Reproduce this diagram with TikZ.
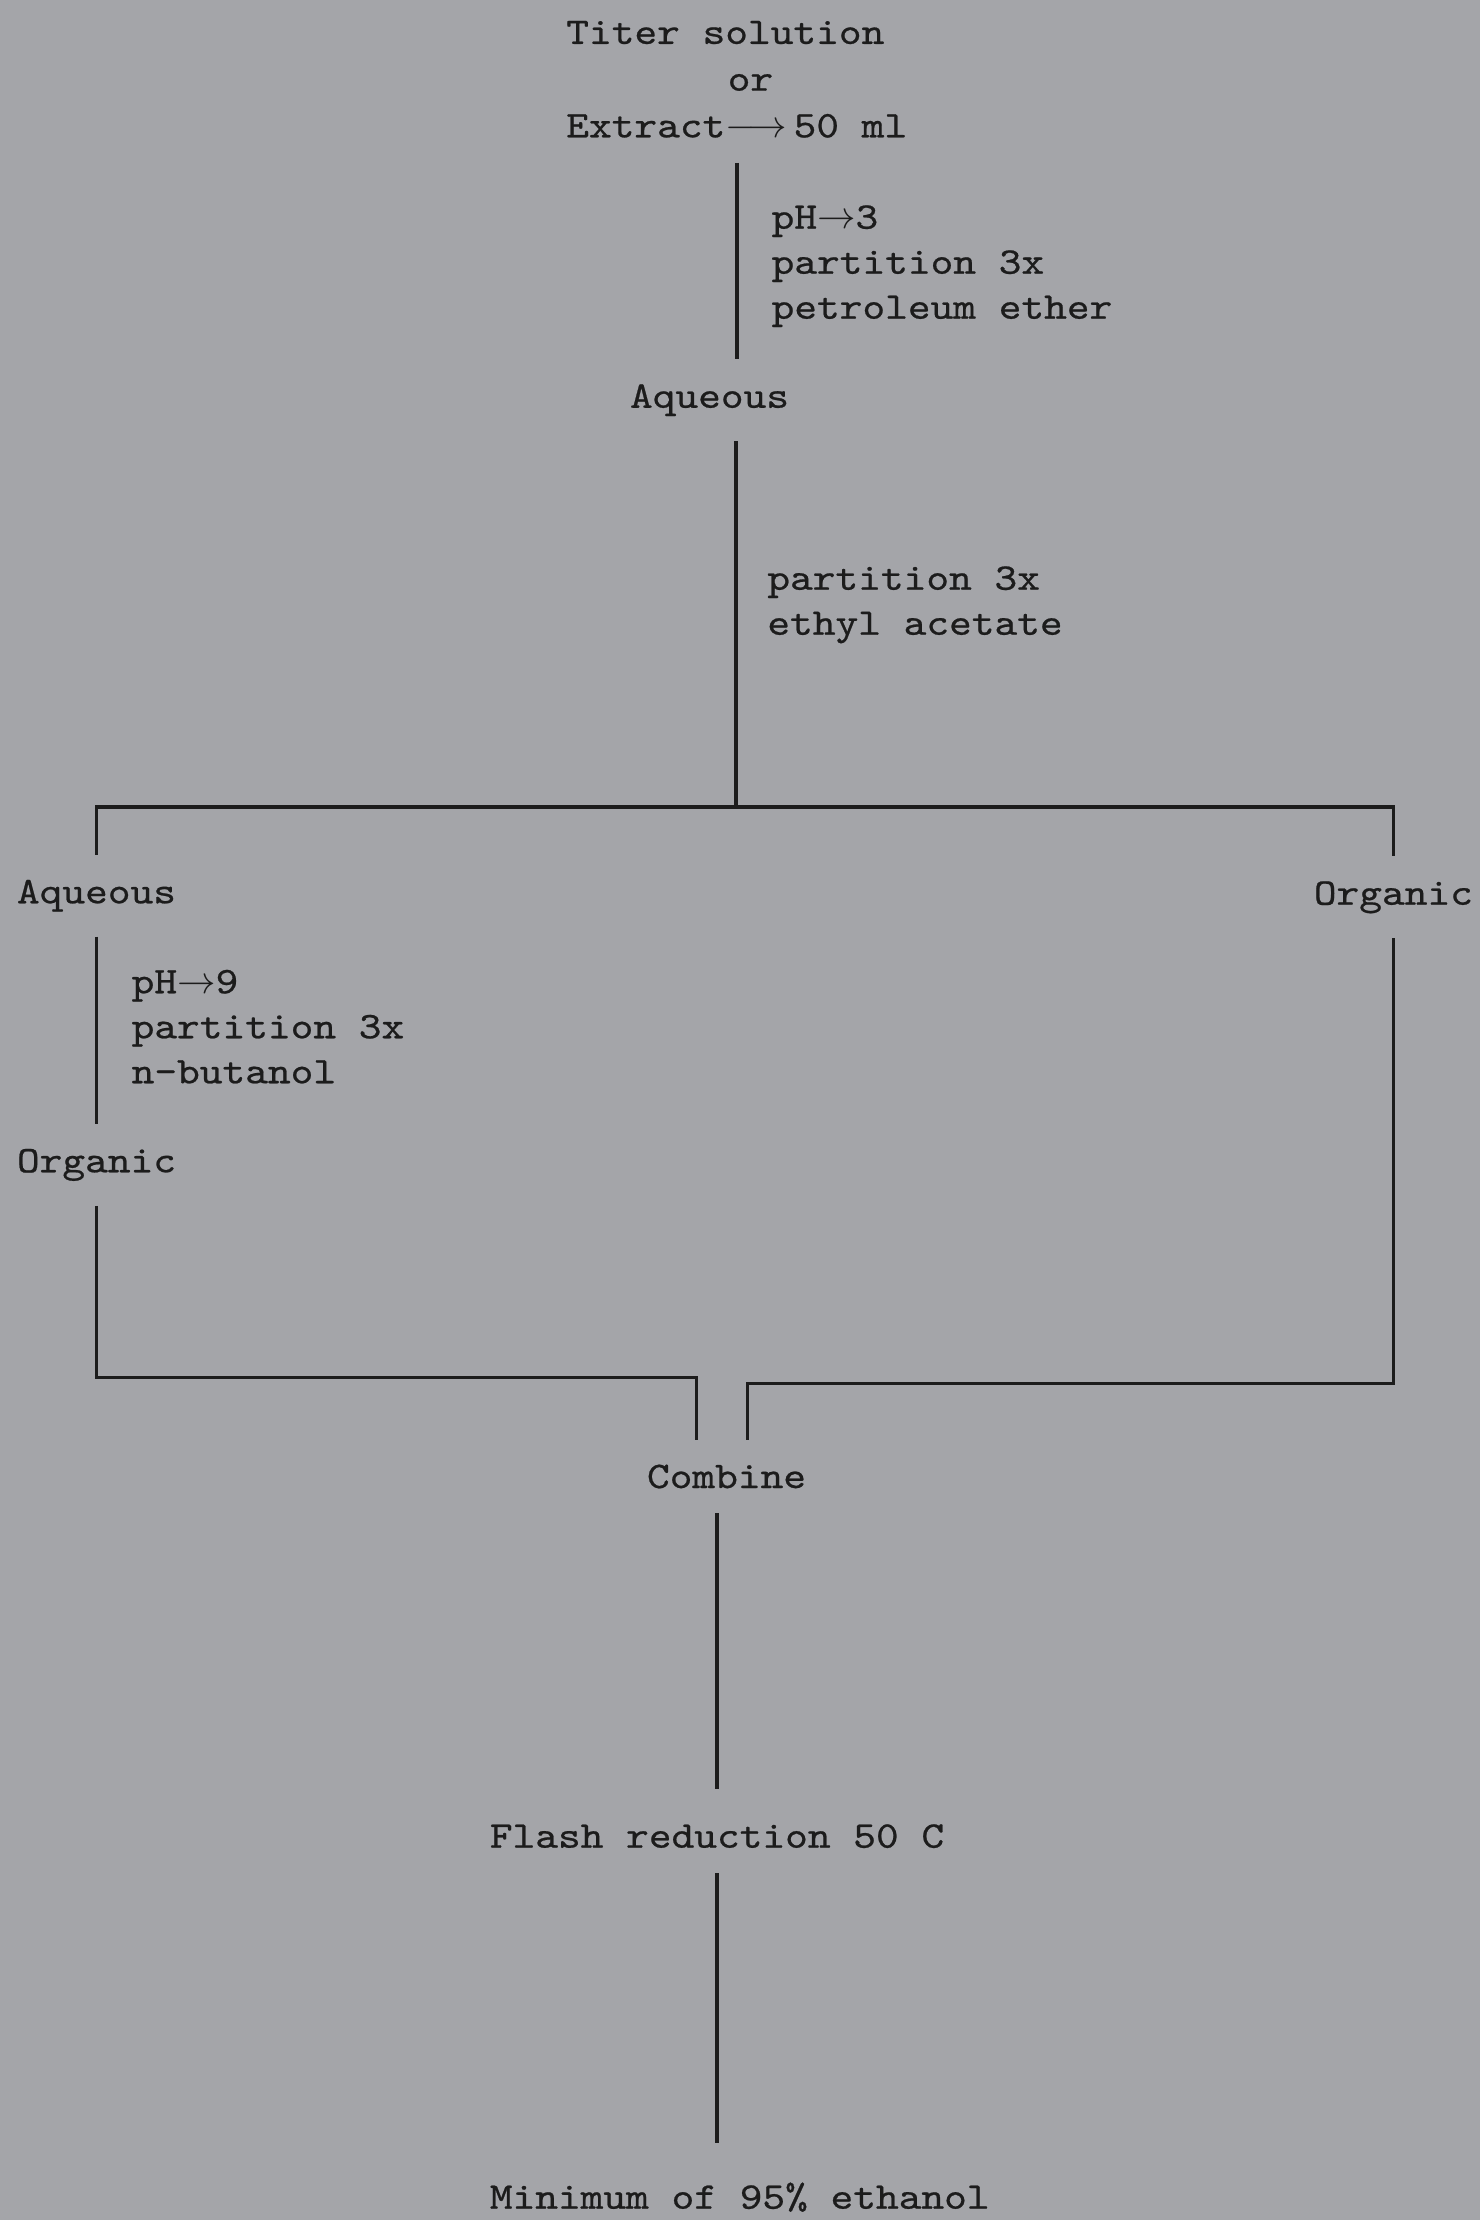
\documentclass[tikz,border=0pt]{standalone}
\usepackage{fontspec}
\usepackage{xcolor}
\usepackage{tikz}
\usetikzlibrary{positioning,calc}
\definecolor{paper}{RGB}{164,165,169}
\definecolor{ink}{RGB}{28,28,28}
\newfontfamily\typewriter{lmmono10-regular.otf}[FakeStretch=1.15,FakeBold=0.6]
\newcommand\typer{\typewriter\fontsize{10.7}{12.8}\selectfont}

\begin{document}
\begin{tikzpicture}[
  x=0.14153mm, y=-0.14153mm,
  txt/.style={font=\typer,text=ink,inner sep=0pt,outer xsep=0pt,outer ysep=2.5mm},
  note/.style={txt,align=left,anchor=north west,outer ysep=0pt},
  flow/.style={draw=ink,line width=1pt},
]
  \fill[paper] (0,0) rectangle (1045,1568);
  \useasboundingbox (0,0) rectangle (1045,1568);

  % start
  \node[txt,anchor=base west] (titer)   at (400,31)  {Titer solution};
  \node[txt,anchor=base west] (or)      at (514,64)  {or};
  \node[txt,anchor=base west] (extract) at (400,97)  {Extract$\longrightarrow$\,50 ml};
  \node[note] (petrol) at (545,145) {pH$\rightarrow$3\\partition 3x\\petroleum ether};
  \node[txt,anchor=base west] (aq1)     at (445,288) {Aqueous};
  \node[note] (ethyl)  at (542,400) {partition 3x\\ethyl acetate};

  % split
  \coordinate (split) at (520,570);
  \node[txt,anchor=base west] (aq2)     at (12,638)  {Aqueous};
  \node[txt,anchor=base west] (org2)    at (928,639) {Organic};
  \node[note] (butanol) at (93,685) {pH$\rightarrow$9\\partition 3x\\n-butanol};
  \node[txt,anchor=base west] (org3)    at (12,828)  {Organic};

  % combine
  \coordinate (joinL) at (492,973);
  \coordinate (joinR) at (528,977);
  \node[txt,anchor=base west] (combine) at (457,1051) {Combine};
  \node[txt,anchor=base west] (flash)   at (346,1305) {Flash reduction 50 C};
  \node[txt,anchor=base west] (final)   at (346,1560) {Minimum of 95\% ethanol};

  \draw[flow] (extract.south) -- (extract.south |- aq1.north);
  \draw[flow] (aq1.south -| split) -- (split);
  \draw[flow] (aq2.north) |- (split) -| (org2.north);
  \draw[flow] (aq2.south) -- (org3.north);
  \draw[flow] (org3.south) |- (joinL) -- (joinL |- combine.north);
  \draw[flow] (org2.south) |- (joinR) -- (joinR |- combine.north);
  \draw[flow,shorten >=1mm] (flash.north |- combine.south) -- (flash.north);
  \draw[flow,shorten >=1.5mm] (flash.south) -- (flash.south |- final.north);
\end{tikzpicture}
\end{document}
